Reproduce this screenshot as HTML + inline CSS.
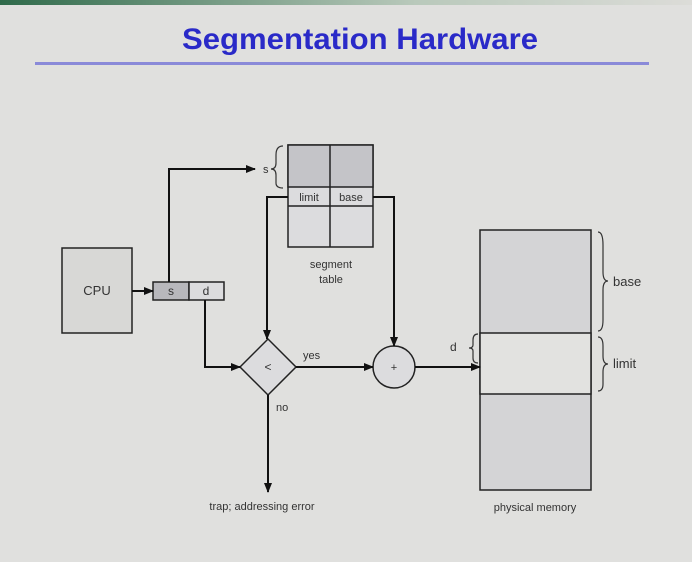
<!DOCTYPE html>
<html><head><style>body{margin:0;background:#e0e0de}svg{display:block}text{font-family:"Liberation Sans",sans-serif}</style></head><body>
<svg width="692" height="562" viewBox="0 0 692 562">
<defs>
<linearGradient id="g" x1="0" x2="1"><stop offset="0" stop-color="#2f6a4a"/><stop offset="0.6" stop-color="#b9c9bb"/><stop offset="1" stop-color="#dcdcd8"/></linearGradient>
<marker id="a" markerWidth="10" markerHeight="8" refX="9" refY="4" orient="auto" markerUnits="userSpaceOnUse"><path d="M0,0L10,4L0,8z" fill="#111"/></marker>
</defs>
<rect width="692" height="562" fill="#e0e0de"/>
<rect width="692" height="5" fill="url(#g)"/>
<text x="182" y="49" font-size="30" font-weight="bold" fill="#2a2ac8" textLength="356" lengthAdjust="spacingAndGlyphs">Segmentation Hardware</text>
<rect x="35" y="62" width="614" height="3" fill="#8a8ad8"/>
<g stroke="#222" stroke-width="1.5" fill="none">
<rect x="62" y="248" width="70" height="85" fill="#d8d8d6"/>
<rect x="153" y="282" width="36" height="18" fill="#b8b8bc"/>
<rect x="189" y="282" width="35" height="18" fill="#dcdcde"/>
<rect x="288" y="145" width="85" height="102" fill="#dcdcde"/>
<rect x="288" y="145" width="85" height="42" fill="#c4c4c8"/>
<line x1="330" y1="145" x2="330" y2="247"/>
<line x1="288" y1="206" x2="373" y2="206"/>
<rect x="480" y="230" width="111" height="260" fill="#d4d4d6"/>
<rect x="480" y="333" width="111" height="61" fill="#e2e2e0"/>
<path d="M240,367L268,339L296,367L268,395Z" fill="#dcdcde"/>
<circle cx="394" cy="367" r="21" fill="#dcdcde"/>
</g>
<g stroke="#111" stroke-width="2" fill="none">
<line x1="132" y1="291" x2="153" y2="291" marker-end="url(#a)"/>
<polyline points="169,282 169,169 255,169" marker-end="url(#a)"/>
<polyline points="205,300 205,367 240,367" marker-end="url(#a)"/>
<polyline points="288,197 267,197 267,339" marker-end="url(#a)"/>
<polyline points="373,197 394,197 394,346" marker-end="url(#a)"/>
<line x1="296" y1="367" x2="373" y2="367" marker-end="url(#a)"/>
<line x1="415" y1="367" x2="480" y2="367" marker-end="url(#a)"/>
<line x1="268" y1="395" x2="268" y2="492" marker-end="url(#a)"/>
</g>
<g stroke="#333" stroke-width="1.2" fill="none">
<path d="M283,146 Q276,146 276,155 L276,163 Q276,169 271,169 Q276,169 276,175 L276,183 Q276,188 283,188"/>
<path d="M598,232 Q603,232 603,245 L603,272 Q603,281 608,281 Q603,281 603,290 L603,320 Q603,331 598,331"/>
<path d="M598,337 Q603,337 603,346 L603,356 Q603,364 608,364 Q603,364 603,372 L603,384 Q603,391 598,391"/>
<path d="M478,334 Q473,334 473,340 L473,345 Q473,348 469,348 Q473,348 473,351 L473,358 Q473,363 478,363"/>
</g>
<g font-size="12" fill="#333">
<text x="97" y="295" text-anchor="middle" font-size="13">CPU</text>
<text x="171" y="295" text-anchor="middle">s</text>
<text x="206" y="295" text-anchor="middle">d</text>
<text x="263" y="173" font-size="11">s</text>
<text x="309" y="201" text-anchor="middle" font-size="11">limit</text>
<text x="351" y="201" text-anchor="middle" font-size="11">base</text>
<text x="331" y="268" text-anchor="middle" font-size="11">segment</text>
<text x="331" y="283" text-anchor="middle" font-size="11">table</text>
<text x="268" y="371" text-anchor="middle">&lt;</text>
<text x="394" y="371" text-anchor="middle" font-size="11">+</text>
<text x="303" y="359" font-size="11">yes</text>
<text x="276" y="411" font-size="11">no</text>
<text x="262" y="510" text-anchor="middle" font-size="11">trap; addressing error</text>
<text x="535" y="511" text-anchor="middle" font-size="11">physical  memory</text>
<text x="613" y="286" font-size="13">base</text>
<text x="613" y="368" font-size="13">limit</text>
<text x="450" y="351" font-size="12">d</text>
</g>
</svg>
</body></html>
